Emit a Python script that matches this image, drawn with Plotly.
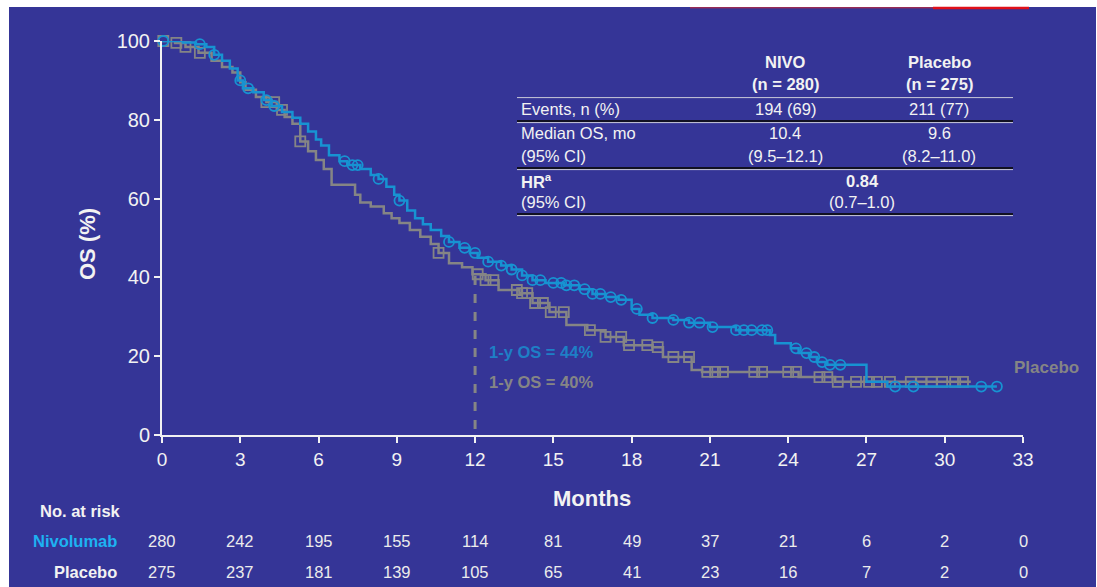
import numpy as np
import plotly.graph_objects as go

# Kaplan-Meier step data: time (months) at which the curve steps to the given OS (%)
nivo_t = [0, 0.8, 1.3, 1.7, 2.0, 2.3, 2.6, 2.9, 3.1, 3.5, 3.9, 4.2, 4.6, 5.0, 5.3, 5.6,
          5.9, 6.1, 6.4, 6.8, 7.1, 7.6, 8.0, 8.3, 8.6, 8.9, 9.1, 9.4, 9.7, 10.0, 10.3,
          10.7, 11.0, 11.4, 11.8, 12.1, 12.5, 13.0, 13.4, 13.8, 14.2, 14.7, 15.4, 16.0,
          16.5, 17.0, 17.5, 18.0, 18.3, 18.8, 19.6, 20.2, 21.0, 22.0, 23.3, 23.5, 24.1,
          24.4, 24.8, 25.1, 25.5, 27.0, 27.8, 32.0]
nivo_s = [100, 99.6, 99.2, 98.5, 96.5, 95, 93, 90, 88, 87, 85, 83.5, 82, 80.5, 79, 77,
          75, 73.5, 71, 69.5, 68.5, 67.5, 66, 65, 63, 61, 59.5, 57, 55, 53.5, 52,
          50.5, 49, 47.5, 46.2, 45, 44, 43, 42, 40.5, 39.3, 38.6, 38, 37,
          35.8, 35, 34.3, 32, 30.5, 29.7, 29.2, 28.5, 27.4, 26.6, 25.4, 23.3, 22,
          20.8, 19.8, 18.5, 17.8, 13.5, 12.3, 12.3]

plac_t = [0, 0.5, 0.9, 1.4, 1.9, 2.3, 2.7, 3.0, 3.2, 3.6, 4.0, 4.4, 4.7, 5.0, 5.3, 5.6,
          5.9, 6.2, 6.5, 7.4, 7.6, 8.0, 8.5, 8.8, 9.1, 9.5, 9.9, 10.3, 10.6, 11.0, 11.5,
          11.9, 12.4, 12.9, 13.7, 14.2, 14.85, 15.5, 16.3, 17.0, 17.7, 18.8, 19.2, 20.3,
          20.7, 24.4, 25.8, 31.0]
plac_s = [100, 99.5, 98.5, 97, 95, 93.4, 92, 89.5, 87.6, 85.8, 84.5, 82.5, 80.7, 79, 74.5, 72,
          69.8, 67.5, 63.5, 61, 59, 58, 56.3, 55, 53.8, 52, 50.3, 48.5, 46.2, 43.6, 42.6,
          40.8, 39.3, 36.8, 36, 33.5, 31.2, 27.9, 26.6, 24.9, 22.8, 22.3, 19.8, 16.5,
          16.0, 14.7, 13.5, 13.5]

# censoring times (months)
nivo_cens = [0.05, 1.45, 2.0, 3.0, 3.3, 4.0, 4.3, 7.0, 7.3, 7.5, 8.3, 9.1, 11.0, 11.6, 12.0,
             12.5, 13.0, 13.4, 13.8, 14.2, 14.5, 15.0, 15.3, 15.5, 15.8, 16.2, 16.5, 16.8,
             17.2, 17.6, 18.2, 18.8, 19.6, 20.2, 20.6, 21.1, 22.0, 22.3, 22.6, 23.0, 23.2,
             24.3, 24.7, 25.0, 25.3, 25.6, 26.0, 28.1, 28.8, 31.4, 32.0]
plac_cens = [0.05, 0.55, 0.9, 1.45, 4.0, 4.3, 4.6, 5.3, 10.6, 12.1, 12.4, 12.7, 13.6, 13.8,
             14.0, 14.3, 14.6, 14.9, 15.4, 16.4, 17.0, 17.6, 17.9, 18.6, 19.0, 19.6, 20.2,
             20.9, 21.2, 21.5, 22.7, 23.0, 24.0, 24.3, 25.2, 25.5, 25.9, 26.6, 27.1, 27.4,
             27.9, 28.7, 29.1, 29.5, 29.9, 30.4, 30.7]

# numbers at risk
risk_months = [0, 3, 6, 9, 12, 15, 18, 21, 24, 27, 30, 33]
nivo_risk = [280, 242, 195, 155, 114, 81, 49, 37, 21, 6, 2, 0]
plac_risk = [275, 237, 181, 139, 105, 65, 41, 23, 16, 7, 2, 0]

W, H = 1097, 587
ML, MR, MT, MB = 162, 74, 41, 152
PW, PH = W - ML - MR, H - MT - MB

BG = "#353597"
NIVO = "#1793d2"
GRAY = "#858585"
TXT = "#f2f2f2"
FONT = "Liberation Sans, Arial, sans-serif"


def px(x):
    return (x - ML) / PW


def py(y):
    return (H - MB - y) / PH


def step_value(times, surv, t):
    i = np.searchsorted(np.asarray(times), t, side="right") - 1
    return np.asarray(surv)[i]


fig = go.Figure()

fig.add_trace(go.Scatter(x=plac_t, y=plac_s, mode="lines", line_shape="hv",
                         line=dict(color=GRAY, width=2.5), cliponaxis=False,
                         hoverinfo="skip", showlegend=False))
fig.add_trace(go.Scatter(x=plac_cens, y=[step_value(plac_t, plac_s, t) for t in plac_cens],
                         mode="markers", cliponaxis=False,
                         marker=dict(symbol="square-open", size=10, color=GRAY,
                                     line=dict(width=1.8, color=GRAY)),
                         showlegend=False))
fig.add_trace(go.Scatter(x=nivo_t, y=nivo_s, mode="lines", line_shape="hv",
                         line=dict(color=NIVO, width=2.5), cliponaxis=False,
                         hoverinfo="skip", showlegend=False))
fig.add_trace(go.Scatter(x=nivo_cens, y=[step_value(nivo_t, nivo_s, t) for t in nivo_cens],
                         mode="markers", cliponaxis=False,
                         marker=dict(symbol="circle-open", size=10, color=NIVO,
                                     line=dict(width=1.8, color=NIVO)),
                         showlegend=False))

# 12-month reference line
fig.add_shape(type="line", xref="x", yref="y", x0=12, x1=12, y0=1.5, y1=41,
              line=dict(color=GRAY, width=3, dash="dash"))

ann = []


def text(x, y, s, size=16.5, color=TXT, bold=False, xanchor="center"):
    if bold:
        s = "<b>" + s + "</b>"
    ann.append(dict(x=px(x), y=py(y), xref="paper", yref="paper", text=s,
                    showarrow=False, xanchor=xanchor, yanchor="middle",
                    font=dict(size=size, color=color, family=FONT)))


# summary table
c1, c2, cm = 785, 939, 862
text(c1, 62, "NIVO", bold=True)
text(c1, 84, "(n = 280)", bold=True)
text(c2, 62, "Placebo", bold=True)
text(c2, 84, "(n = 275)", bold=True)
text(519, 109, "Events, n (%)", xanchor="left")
text(c1, 109, "194 (69)")
text(c2, 109, "211 (77)")
text(519, 133, "Median OS, mo", xanchor="left")
text(519, 156, "(95% CI)", xanchor="left")
text(c1, 133, "10.4")
text(c1, 156, "(9.5–12.1)")
text(c2, 133, "9.6")
text(c2, 156, "(8.2–11.0)")
text(519, 181, "HR<sup>a</sup>", bold=True, xanchor="left")
text(519, 202, "(95% CI)", xanchor="left")
text(cm, 181, "0.84", bold=True)
text(cm, 202, "(0.7–1.0)")

shapes = []
for yy in [96, 121, 168, 214]:
    shapes.append(dict(type="line", xref="paper", yref="paper", x0=px(517), x1=px(1013),
                       y0=py(yy), y1=py(yy), line=dict(color="#111122", width=2)))
    shapes.append(dict(type="line", xref="paper", yref="paper", x0=px(517), x1=px(1013),
                       y0=py(yy + 1.6), y1=py(yy + 1.6), line=dict(color="#c9c9d9", width=1)))

# curve annotations
text(487, 352, "1-y OS = 44%", size=16.5, color="#1e7fc6", bold=True, xanchor="left")
text(487, 382, "1-y OS = 40%", size=16.5, color=GRAY, bold=True, xanchor="left")
text(1046, 367, "Placebo", size=17, color=GRAY, bold=True)

# axis titles
text(592, 498, "Months", size=22, bold=True)
ann.append(dict(x=px(88), y=py(244), xref="paper", yref="paper", text="<b>OS (%)</b>",
                showarrow=False, textangle=-90, xanchor="center", yanchor="middle",
                font=dict(size=22, color=TXT, family=FONT)))

# numbers at risk
text(80, 511, "No. at risk", size=16.5, bold=True)
text(119, 541, "Nivolumab", size=16.5, color="#1db2f2", bold=True, xanchor="right")
text(119, 572, "Placebo", size=16.5, bold=True, xanchor="right")
for m, a, b in zip(risk_months, nivo_risk, plac_risk):
    xp = ML + m / 33 * PW
    text(xp, 541, str(a), size=16.5, color="#ececec")
    text(xp, 572, str(b), size=16.5, color="#ececec")

# white frame around the slide and the red accent rule at the top
for x0, x1, y0, y1 in [(0, W, 0, 7), (0, 9, 0, H), (1096, W, 0, H)]:
    shapes.append(dict(type="rect", xref="paper", yref="paper", x0=px(x0), x1=px(x1),
                       y0=py(y1), y1=py(y0), line=dict(width=0), fillcolor="white",
                       layer="above"))
shapes.append(dict(type="line", xref="paper", yref="paper", x0=px(690), x1=px(1029),
                   y0=py(7.8), y1=py(7.8), line=dict(color="#c4283a", width=1)))
shapes.append(dict(type="line", xref="paper", yref="paper", x0=px(933), x1=px(1029),
                   y0=py(8), y1=py(8), line=dict(color="#e0101a", width=2.5)))

axis_common = dict(showline=True, linecolor=TXT, linewidth=2, ticks="outside",
                   ticklen=6, tickwidth=1.5, tickcolor=TXT, showgrid=False,
                   zeroline=False)

fig.update_layout(
    width=W, height=H,
    margin=dict(l=ML, r=MR, t=MT, b=MB),
    paper_bgcolor=BG, plot_bgcolor=BG,
    xaxis=dict(range=[0, 33], tickvals=risk_months,
               tickfont=dict(size=19, color=TXT, family=FONT), **axis_common),
    yaxis=dict(range=[0, 100], tickvals=[0, 20, 40, 60, 80, 100],
               tickfont=dict(size=20, color=TXT, family=FONT), **axis_common),
    annotations=ann, shapes=shapes, showlegend=False,
)

fig.write_html("out.html")
